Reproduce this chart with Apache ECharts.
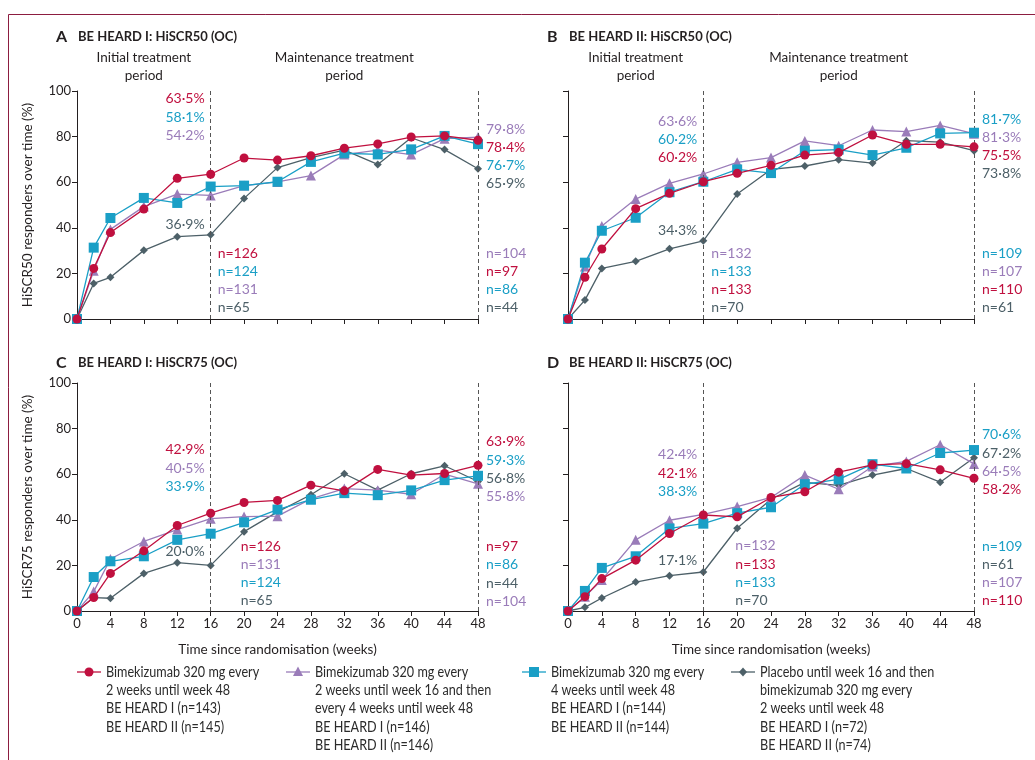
<!DOCTYPE html>
<html>
<head>
<meta charset="utf-8">
<title>BE HEARD I / II HiSCR responders</title>
<script src="https://cdn.jsdelivr.net/npm/echarts@6.0.0/dist/echarts.min.js"></script>
<style>
    html, body { margin: 0; padding: 0; background: #fff; }
    #chart { width: 1035px; height: 760px; }
</style>
</head>
<body>
<div id="chart"></div>
<script>
// weeks since randomisation
var weeks = [0, 2, 4, 8, 12, 16, 20, 24, 28, 32, 36, 40, 44, 48];
var yTicks = [0, 20, 40, 60, 80, 100];

// A: BE HEARD I HiSCR50
var a_q2w = [0, 22.2, 37.9, 48.2, 61.7, 63.5, 70.6, 69.7, 71.6, 74.9, 76.8, 79.8, 80.3, 78.4];
var a_q2wq4w = [0, 21.2, 39.3, 49.3, 54.8, 54.2, 58.5, 60.1, 62.9, 72.1, 74.1, 72.1, 79.1, 79.8];
var a_q4w = [0, 31.3, 44.3, 53.1, 50.9, 58.1, 58.5, 60.2, 68.9, 72.7, 72.2, 74.4, 80.3, 76.7];
var a_pbo = [0, 15.6, 18.3, 30.1, 36.1, 36.9, 52.9, 66.4, 70.8, 74.1, 67.8, 79.5, 74.3, 65.9];

// B: BE HEARD II HiSCR50
var b_q2w = [0, 18.3, 30.7, 48.4, 55.1, 60.2, 63.9, 67.4, 71.9, 73.0, 80.7, 76.6, 76.6, 75.5];
var b_q2wq4w = [0, 23.0, 40.8, 52.6, 59.5, 63.6, 68.7, 70.8, 78.1, 76.0, 82.9, 82.2, 84.9, 81.3];
var b_q4w = [0, 24.7, 38.7, 44.4, 55.6, 60.2, 65.6, 64.0, 73.8, 74.3, 71.9, 75.1, 81.4, 81.7];
var b_pbo = [0, 8.3, 22.2, 25.3, 30.8, 34.3, 54.8, 65.6, 67.1, 69.9, 68.4, 78.2, 77.6, 73.8];

// C: BE HEARD I HiSCR75
var c_q2w = [0, 5.9, 16.5, 26.4, 37.5, 42.9, 47.6, 48.5, 55.2, 52.7, 62.1, 59.6, 60.3, 63.9];
var c_q2wq4w = [0, 8.5, 22.8, 30.5, 35.7, 40.5, 41.4, 41.6, 49.2, 53.7, 53.0, 51.2, 60.0, 55.8];
var c_q4w = [0, 14.9, 21.8, 24.0, 31.2, 33.9, 38.9, 44.5, 48.8, 51.7, 50.8, 52.9, 57.4, 59.3];
var c_pbo = [0, 5.9, 5.6, 16.5, 21.2, 20.0, 34.8, 43.5, 51.0, 60.2, 53.0, 60.2, 63.7, 56.8];

// D: BE HEARD II HiSCR75
var d_q2w = [0, 6.3, 14.2, 22.3, 34.0, 42.1, 41.3, 49.8, 52.3, 60.9, 64.1, 64.6, 61.9, 58.2];
var d_q2wq4w = [0, 6.3, 13.6, 31.2, 39.8, 42.4, 45.8, 49.8, 59.6, 53.4, 63.4, 65.6, 72.9, 64.5];
var d_q4w = [0, 8.8, 18.9, 24.0, 36.2, 38.3, 42.9, 45.5, 55.6, 57.7, 64.4, 62.5, 69.3, 70.6];
var d_pbo = [0, 1.6, 5.7, 12.7, 15.5, 17.1, 36.3, 49.0, 56.4, 55.1, 59.6, 62.5, 56.5, 67.2];

// annotation texts, [text, group]
var a_wk16_pct = [['63·5%', 'q2w'], ['58·1%', 'q4w'], ['54·2%', 'q2wq4w']];
var a_wk16_pbo = [['36·9%', 'pbo']];
var a_wk16_n = [['n=126', 'q2w'], ['n=124', 'q4w'], ['n=131', 'q2wq4w'], ['n=65', 'pbo']];
var a_wk48_pct = [['79·8%', 'q2wq4w'], ['78·4%', 'q2w'], ['76·7%', 'q4w'], ['65·9%', 'pbo']];
var a_wk48_n = [['n=104', 'q2wq4w'], ['n=97', 'q2w'], ['n=86', 'q4w'], ['n=44', 'pbo']];

var b_wk16_pct = [['63·6%', 'q2wq4w'], ['60·2%', 'q4w'], ['60·2%', 'q2w']];
var b_wk16_pbo = [['34·3%', 'pbo']];
var b_wk16_n = [['n=132', 'q2wq4w'], ['n=133', 'q4w'], ['n=133', 'q2w'], ['n=70', 'pbo']];
var b_wk48_pct = [['81·7%', 'q4w'], ['81·3%', 'q2wq4w'], ['75·5%', 'q2w'], ['73·8%', 'pbo']];
var b_wk48_n = [['n=109', 'q4w'], ['n=107', 'q2wq4w'], ['n=110', 'q2w'], ['n=61', 'pbo']];

var c_wk16_pct = [['42·9%', 'q2w'], ['40·5%', 'q2wq4w'], ['33·9%', 'q4w']];
var c_wk16_pbo = [['20·0%', 'pbo']];
var c_wk16_n = [['n=126', 'q2w'], ['n=131', 'q2wq4w'], ['n=124', 'q4w'], ['n=65', 'pbo']];
var c_wk48_pct = [['63·9%', 'q2w'], ['59·3%', 'q4w'], ['56·8%', 'pbo'], ['55·8%', 'q2wq4w']];
var c_wk48_n = [['n=97', 'q2w'], ['n=86', 'q4w'], ['n=44', 'pbo'], ['n=104', 'q2wq4w']];

var d_wk16_pct = [['42·4%', 'q2wq4w'], ['42·1%', 'q2w'], ['38·3%', 'q4w']];
var d_wk16_pbo = [['17·1%', 'pbo']];
var d_wk16_n = [['n=132', 'q2wq4w'], ['n=133', 'q2w'], ['n=133', 'q4w'], ['n=70', 'pbo']];
var d_wk48_pct = [['70·6%', 'q4w'], ['67·2%', 'pbo'], ['64·5%', 'q2wq4w'], ['58·2%', 'q2w']];
var d_wk48_n = [['n=109', 'q4w'], ['n=61', 'pbo'], ['n=107', 'q2wq4w'], ['n=110', 'q2w']];

var legendTexts = {
    q2w: ['Bimekizumab 320 mg every', '2 weeks until week 48', 'BE HEARD I (n=143)', 'BE HEARD II (n=145)'],
    q2wq4w: ['Bimekizumab 320 mg every', '2 weeks until week 16 and then', 'every 4 weeks until week 48', 'BE HEARD I (n=146)', 'BE HEARD II (n=146)'],
    q4w: ['Bimekizumab 320 mg every', '4 weeks until week 48', 'BE HEARD I (n=144)', 'BE HEARD II (n=144)'],
    pbo: ['Placebo until week 16 and then', 'bimekizumab 320 mg every', '2 weeks until week 48', 'BE HEARD I (n=72)', 'BE HEARD II (n=74)']
};

var colors = { q2w: '#c0103f', q2wq4w: '#9a7cb9', q4w: '#1a9fc6', pbo: '#4d6068' };
var symbols = { q2w: 'circle', q2wq4w: 'triangle', q4w: 'rect', pbo: 'diamond' };
var symbolSizes = { q2w: 9, q2wq4w: 10, q4w: 10, pbo: 8 };
var drawOrder = ['pbo', 'q2wq4w', 'q4w', 'q2w'];

var FONT = 'Lato, "Open Sans", sans-serif';
var INK = '#231f20';

var panels = [
    { letter: 'A', title: 'BE HEARD I: HiSCR50 (OC)', grid: { left: 77, top: 91, width: 401, height: 228 },
      yName: 'HiSCR50 responders over time (%)', showY: true, showX: false,
      data: { q2w: a_q2w, q2wq4w: a_q2wq4w, q4w: a_q4w, pbo: a_pbo },
      notes: [
          { x: 16, y: 96.5, side: 'left', rows: a_wk16_pct },
          { x: 16, y: 41.4, side: 'left', rows: a_wk16_pbo },
          { x: 16, y: 28.9, side: 'right', dx: 7, rows: a_wk16_n },
          { x: 48, y: 83.3, side: 'right', rows: a_wk48_pct },
          { x: 48, y: 28.9, side: 'right', rows: a_wk48_n }
      ] },
    { letter: 'B', title: 'BE HEARD II: HiSCR50 (OC)', grid: { left: 568, top: 91, width: 406, height: 228 },
      yName: '', showY: false, showX: false,
      data: { q2w: b_q2w, q2wq4w: b_q2wq4w, q4w: b_q4w, pbo: b_pbo },
      notes: [
          { x: 16, y: 86.8, side: 'left', rows: b_wk16_pct },
          { x: 16, y: 39.0, side: 'left', rows: b_wk16_pbo },
          { x: 16, y: 28.9, side: 'right', dx: 8, rows: b_wk16_n },
          { x: 48, y: 87.7, side: 'right', rows: b_wk48_pct },
          { x: 48, y: 28.9, side: 'right', rows: b_wk48_n }
      ] },
    { letter: 'C', title: 'BE HEARD I: HiSCR75 (OC)', grid: { left: 77, top: 383, width: 401, height: 228 },
      yName: 'HiSCR75 responders over time (%)', showY: true, showX: true,
      data: { q2w: c_q2w, q2wq4w: c_q2wq4w, q4w: c_q4w, pbo: c_pbo },
      notes: [
          { x: 16, y: 70.7, side: 'left', rows: c_wk16_pct },
          { x: 16, y: 26.0, side: 'left', rows: c_wk16_pbo },
          { x: 16, y: 28.5, side: 'right', dx: 30, rows: c_wk16_n },
          { x: 48, y: 74.2, side: 'right', rows: c_wk48_pct },
          { x: 48, y: 28.2, side: 'right', rows: c_wk48_n }
      ] },
    { letter: 'D', title: 'BE HEARD II: HiSCR75 (OC)', grid: { left: 568, top: 383, width: 406, height: 228 },
      yName: '', showY: false, showX: true,
      data: { q2w: d_q2w, q2wq4w: d_q2wq4w, q4w: d_q4w, pbo: d_pbo },
      notes: [
          { x: 16, y: 68.5, side: 'left', rows: d_wk16_pct },
          { x: 16, y: 22.1, side: 'left', rows: d_wk16_pbo },
          { x: 16, y: 28.6, side: 'right', dx: 32, rows: d_wk16_n },
          { x: 48, y: 77.2, side: 'right', rows: d_wk48_pct },
          { x: 48, y: 28.5, side: 'right', rows: d_wk48_n }
      ] }
];

var chart = echarts.init(document.getElementById('chart'), null, { renderer: 'canvas' });

var grids = [], xAxes = [], yAxes = [], series = [];
panels.forEach(function (p, gi) {
    grids.push(p.grid);
    xAxes.push({
        type: 'value', gridIndex: gi, min: 0, max: 48, interval: 4,
        name: p.showX ? 'Time since randomisation (weeks)' : '',
        nameLocation: 'middle', nameGap: 32,
        nameTextStyle: { fontFamily: FONT, fontSize: 13.5, color: INK },
        axisLine: { lineStyle: { color: INK, width: 1 } },
        axisTick: { show: true, length: 5, lineStyle: { color: INK } },
        axisLabel: { show: p.showX, fontFamily: FONT, fontSize: 13, color: INK, margin: 6 },
        splitLine: { show: false }
    });
    yAxes.push({
        type: 'value', gridIndex: gi, min: 0, max: 100, interval: 20,
        name: p.yName, nameLocation: 'middle', nameGap: 42, nameRotate: 90,
        nameTextStyle: { fontFamily: FONT, fontSize: 13.5, color: INK },
        axisLine: { show: true, lineStyle: { color: INK, width: 1 } },
        axisTick: { show: true, length: 5, lineStyle: { color: INK } },
        axisLabel: { show: p.showY, fontFamily: FONT, fontSize: 13, color: INK, margin: 6 },
        splitLine: { show: false }
    });
    drawOrder.forEach(function (key, k) {
        var s = {
            type: 'line', xAxisIndex: gi, yAxisIndex: gi,
            data: weeks.map(function (w, i) { return [w, p.data[key][i]]; }),
            symbol: symbols[key], symbolSize: symbolSizes[key], showSymbol: true,
            lineStyle: { color: colors[key], width: 1.3 },
            itemStyle: { color: colors[key] },
            animation: false, silent: true, z: 3 + k
        };
        if (k === 0) {
            s.markLine = {
                silent: true, symbol: 'none', label: { show: false },
                lineStyle: { color: '#555', type: [4, 3], width: 1 },
                data: [{ xAxis: 16 }, { xAxis: 48 }]
            };
        }
        series.push(s);
    });
});

chart.setOption({
    backgroundColor: '#fff',
    animation: false,
    grid: grids,
    xAxis: xAxes,
    yAxis: yAxes,
    series: series
});

// text, frame and legend drawn as graphics
var graphics = [];

function text(x, y, str, opt) {
    opt = opt || {};
    graphics.push({
        type: 'text', x: x, y: y, silent: true,
        scaleX: opt.scaleX || 1,
        style: {
            text: str, fill: opt.color || INK,
            font: (opt.weight || 'normal') + ' ' + (opt.size || 13) + 'px ' + (opt.family || FONT),
            align: opt.align || 'left', verticalAlign: 'middle'
        }
    });
}

// frame
graphics.push({ type: 'line', silent: true, shape: { x1: 8.5, y1: 14.5, x2: 1035, y2: 14.5 }, style: { stroke: '#8c1d40', lineWidth: 1 } });
graphics.push({ type: 'line', silent: true, shape: { x1: 8.5, y1: 14.5, x2: 8.5, y2: 760 }, style: { stroke: '#8c1d40', lineWidth: 1 } });

panels.forEach(function (p, gi) {
    var g = p.grid;
    var titleY = g.top - 54;
    if (gi >= 2) titleY = g.top - 20;
    text(g.left - 21, titleY, p.letter, { weight: 'bold', size: 16 });
    text(g.left + 1, titleY, p.title, { weight: 'bold', size: 13 });
    if (gi < 2) {
        var xi = chart.convertToPixel({ gridIndex: gi }, [8, 0])[0];
        var xm = chart.convertToPixel({ gridIndex: gi }, [32, 0])[0];
        text(xi, g.top - 33, 'Initial treatment', { align: 'center', size: 13.5 });
        text(xi, g.top - 15, 'period', { align: 'center', size: 13.5 });
        text(xm, g.top - 33, 'Maintenance treatment', { align: 'center', size: 13.5 });
        text(xm, g.top - 15, 'period', { align: 'center', size: 13.5 });
    }
    p.notes.forEach(function (n) {
        var pt = chart.convertToPixel({ gridIndex: gi }, [n.x, n.y]);
        var x = n.side === 'left' ? pt[0] - 6 : pt[0] + (n.dx || 8);
        n.rows.forEach(function (r, i) {
            text(x, pt[1] + i * 18.2, r[0], { color: colors[r[1]], align: n.side === 'left' ? 'right' : 'left', size: 14 });
        });
    });
});

// legend
var legendX = { q2w: 89, q2wq4w: 298, q4w: 534, pbo: 743 };
['q2w', 'q2wq4w', 'q4w', 'pbo'].forEach(function (key) {
    var cx = legendX[key], cy = 672;
    graphics.push({ type: 'line', silent: true, shape: { x1: cx - 12, y1: cy, x2: cx + 12, y2: cy }, style: { stroke: colors[key], lineWidth: 1.3 } });
    var shape;
    if (key === 'q2w') {
        shape = { type: 'circle', shape: { cx: cx, cy: cy, r: 4.5 } };
    } else if (key === 'q4w') {
        shape = { type: 'rect', shape: { x: cx - 5, y: cy - 5, width: 10, height: 10 } };
    } else if (key === 'q2wq4w') {
        shape = { type: 'polygon', shape: { points: [[cx, cy - 5.5], [cx + 5, cy + 4], [cx - 5, cy + 4]] } };
    } else {
        shape = { type: 'polygon', shape: { points: [[cx, cy - 4.5], [cx + 4, cy], [cx, cy + 4.5], [cx - 4, cy]] } };
    }
    shape.silent = true;
    shape.style = { fill: colors[key] };
    graphics.push(shape);
    legendTexts[key].forEach(function (line, i) {
        text(cx + 17, cy + i * 18.3, line, { size: 14.5, color: '#2b2b2b', scaleX: 0.87 });
    });
});

chart.setOption({ graphic: graphics });
</script>
</body>
</html>
